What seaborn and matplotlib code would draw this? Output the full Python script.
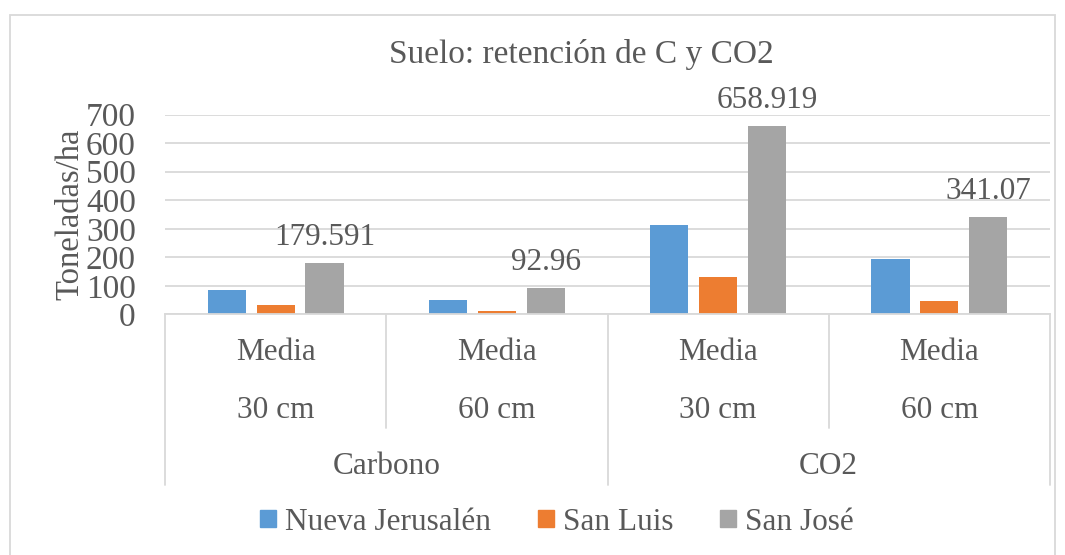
import matplotlib
matplotlib.use("Agg")
import matplotlib.pyplot as plt
import matplotlib.transforms as mtransforms
from matplotlib.patches import Rectangle
import seaborn as sns
import pandas as pd

# ---- data ----
groups = ["Carbono 30", "Carbono 60", "CO2 30", "CO2 60"]
stat_labels = ["Media", "Media", "Media", "Media"]
depth_labels = ["30 cm", "60 cm", "30 cm", "60 cm"]
outer_labels = ["Carbono", "CO2"]
series = ["Nueva Jerusalén", "San Luis", "San José"]
nueva_jerusalen = [85, 50, 314, 193]
san_luis = [34, 10.5, 130, 45.6]
san_jose = [179.591, 92.96, 658.919, 341.07]
sj_labels = ["179.591", "92.96", "658.919", "341.07"]
colors = ["#5B9BD5", "#ED7D31", "#A5A5A5"]

rows = []
for name, vals in zip(series, [nueva_jerusalen, san_luis, san_jose]):
    for g, v in zip(groups, vals):
        rows.append({"grupo": g, "serie": name, "valor": v})
df = pd.DataFrame(rows)

sns.set_theme(style="white")
plt.rcParams["font.family"] = ["Liberation Serif", "DejaVu Serif"]
txt = "#595959"
grid_c = "#D9D9D9"
FS = 22.5

fig = plt.figure(figsize=(10.65, 5.55), dpi=100)
ax = fig.add_axes([165 / 1065, 1 - 314.3 / 555, (1050 - 165) / 1065, (314.3 - 114.7) / 555])

sns.barplot(data=df, x="grupo", y="valor", hue="serie", order=groups,
            hue_order=series, palette=colors, width=0.664, gap=0.22,
            saturation=1, ax=ax, legend=False, edgecolor="none")

ax.set_xlim(-0.5, 3.5)
ax.set_ylim(0, 700)
ax.set_yticks(range(0, 701, 100))
ax.tick_params(axis="y", labelsize=24, colors=txt, length=0, pad=21)
ax.set_xticks([])
ax.set_xlabel("")
ax.set_ylabel("Toneladas/ha", fontsize=23.5, color=txt, labelpad=0)
ax.yaxis.grid(True, color=grid_c, linewidth=1.3)
ax.set_axisbelow(True)
for s in ["left", "right", "top"]:
    ax.spines[s].set_visible(False)
ax.spines["bottom"].set_color(grid_c)
ax.spines["bottom"].set_linewidth(1.3)

# data labels on San José bars
sj_container = ax.containers[2]
ax.bar_label(sj_container, labels=sj_labels, fontsize=FS, color=txt,
             padding=8, clip_on=False)

# category axis (multi-level)
trans = mtransforms.blended_transform_factory(ax.transData, ax.transAxes)
ax_h = (314.3 - 114.7)
def yax(py):
    return (314.3 - py) / ax_h

for xb in [-0.5, 1.5, 3.5]:
    ax.plot([xb, xb], [0, yax(485)], transform=trans, color=grid_c, lw=1.3, clip_on=False)
for xb in [0.5, 2.5]:
    ax.plot([xb, xb], [0, yax(428)], transform=trans, color=grid_c, lw=1.3, clip_on=False)

for i in range(len(groups)):
    ax.text(i, yax(353), stat_labels[i], transform=trans, ha="center", va="center",
            fontsize=FS, color=txt)
    ax.text(i, yax(410), depth_labels[i], transform=trans, ha="center", va="center",
            fontsize=FS, color=txt)
for j, lab in enumerate(outer_labels):
    ax.text(0.5 + 2 * j, yax(467), lab, transform=trans, ha="center", va="center",
            fontsize=FS, color=txt)

# title
fig.text(581 / 1065, 1 - 55 / 555, "Suelo: retención de C y CO2", ha="center", va="center",
         fontsize=24, color=txt)

# legend
handles = [Rectangle((0, 0), 1, 1, color=c) for c in colors]
fig.legend(handles, series, loc="center", bbox_to_anchor=(557 / 1065, 1 - 522 / 555),
           ncol=3, frameon=False, fontsize=FS, labelcolor=txt,
           handlelength=0.5, handleheight=0.5, handletextpad=0.3, columnspacing=1.5)

# outer border
fig.patches.append(Rectangle((10 / 1065, -0.01), 1045 / 1065, 1 - 15 / 555 + 0.01,
                             transform=fig.transFigure, fill=False,
                             edgecolor=grid_c, linewidth=1.3))

fig.savefig("out.png", dpi=100)
